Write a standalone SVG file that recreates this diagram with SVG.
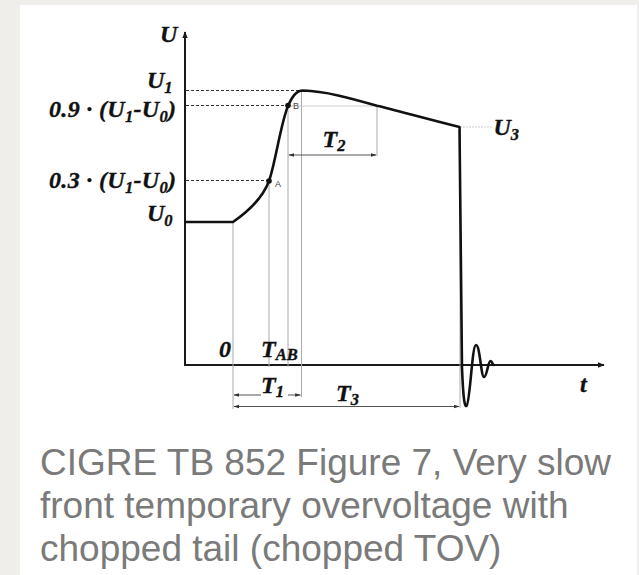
<svg xmlns="http://www.w3.org/2000/svg" width="639" height="575" viewBox="0 0 639 575">
<defs>
<style>
.lbl{font-family:"Liberation Serif","Times New Roman",serif;font-weight:bold;font-style:italic;font-size:24px;fill:#111;stroke:#111;stroke-width:0.35}
.sub{font-size:16.5px}
.pt{font-family:"Liberation Sans",Arial,sans-serif;font-size:9px;fill:#444}
.cap{font-family:"Liberation Sans",Arial,sans-serif;font-size:37px;fill:#7a7a7a}
.axis{stroke:#1a1a1a;stroke-width:2;fill:none}
.curve{stroke:#111;stroke-width:2.6;fill:none;stroke-linejoin:round;stroke-linecap:round}
.dash{stroke:#333;stroke-width:1;stroke-dasharray:3 2;fill:none}
.thin{stroke:#aaa;stroke-width:1;fill:none}
.faint{stroke:#ccc;stroke-width:1;fill:none}
.dim{stroke:#555;stroke-width:1;fill:none}
</style>
<marker id="ah" viewBox="0 0 10 10" refX="9" refY="5" markerWidth="7" markerHeight="7" orient="auto-start-reverse" markerUnits="userSpaceOnUse">
<path d="M0,1 L10,5 L0,9 z" fill="#1a1a1a"/>
</marker>
<marker id="da" viewBox="0 0 10 10" refX="9" refY="5" markerWidth="6" markerHeight="6" orient="auto-start-reverse" markerUnits="userSpaceOnUse">
<path d="M0,2 L10,5 L0,8 z" fill="#333"/>
</marker>
</defs>
<rect x="0" y="0" width="639" height="575" fill="#efeeeb"/>
<rect x="20" y="5" width="617" height="570" fill="#ffffff"/>

<g id="connectors">
<line class="axis" x1="185" y1="366" x2="185" y2="32" marker-end="url(#ah)"/>
<line class="axis" x1="184" y1="365" x2="604" y2="365" marker-end="url(#ah)"/>
<line class="dash" x1="186" y1="90.5" x2="302" y2="90.5"/>
<line class="dash" x1="186" y1="105.5" x2="288" y2="105.5"/>
<line class="dash" x1="186" y1="180.5" x2="269" y2="180.5"/>
<line class="faint" x1="288" y1="106" x2="377" y2="106"/>
<line class="faint" x1="460" y1="127" x2="493" y2="127" stroke-dasharray="2 1"/>
<line class="thin" x1="233" y1="222" x2="233" y2="409"/>
<line class="thin" x1="269" y1="181" x2="269" y2="367"/>
<line class="thin" x1="288" y1="106" x2="288" y2="367"/>
<line class="thin" x1="301.5" y1="91" x2="301.5" y2="397"/>
<line class="thin" x1="377" y1="105" x2="377" y2="156"/>
<line class="thin" x1="460" y1="128" x2="460" y2="408"/>
<line class="dim" x1="289" y1="155" x2="376" y2="155" marker-start="url(#da)" marker-end="url(#da)"/>
<line class="dim" x1="234" y1="395" x2="261" y2="395" marker-start="url(#da)"/>
<line class="dim" x1="288" y1="395" x2="300.5" y2="395" marker-end="url(#da)"/>
<line class="dim" x1="234" y1="406.5" x2="459" y2="406.5" marker-start="url(#da)" marker-end="url(#da)"/>
</g>

<g id="waveform">
<path class="curve" d="M186,222 L233,222 C249,211 263,197 269,181 C275,165 281,122 288,106 C292,97 296,90.5 303,90.5 C325,91 350,98 377,105.7 C395,110 420,117 459.5,127 L462,368 C463,392 464,407 466.5,406 C470,404 472,345 476,345 C480,345 481,377 484,377 C487,377 488,361 490.5,361 C492.5,361 492,365 494,365"/>
<circle cx="269" cy="181" r="2.8" fill="#111"/>
<circle cx="288" cy="105.5" r="2.8" fill="#111"/>
</g>

<g id="point-A"><text class="pt" x="275" y="187">A</text></g>
<g id="point-B"><text class="pt" x="293" y="108.5">B</text></g>

<g id="labels-y">
<text class="lbl" x="160" y="42">U</text>
<text class="lbl" x="147" y="88">U<tspan class="sub" dy="5">1</tspan></text>
<text class="lbl" x="49" y="116.5" textLength="127" lengthAdjust="spacing">0.9 · (U<tspan class="sub" dy="5">1</tspan><tspan dy="-5">-U</tspan><tspan class="sub" dy="5">0</tspan><tspan dy="-5">)</tspan></text>
<text class="lbl" x="49" y="188" textLength="127" lengthAdjust="spacing">0.3 · (U<tspan class="sub" dy="5">1</tspan><tspan dy="-5">-U</tspan><tspan class="sub" dy="5">0</tspan><tspan dy="-5">)</tspan></text>
<text class="lbl" x="147" y="221">U<tspan class="sub" dy="5">0</tspan></text>
</g>

<g id="labels-x">
<text class="lbl" x="219" y="357">0</text>
<text class="lbl" x="261" y="357">T<tspan class="sub" dy="3">AB</tspan></text>
<text class="lbl" x="261" y="393">T<tspan class="sub" dy="4">1</tspan></text>
<text class="lbl" x="336" y="401">T<tspan class="sub" dy="4">3</tspan></text>
<text class="lbl" x="322.5" y="147">T<tspan class="sub" dy="4">2</tspan></text>
<text class="lbl" x="493.5" y="135">U<tspan class="sub" dy="5">3</tspan></text>
<text class="lbl" x="580" y="392">t</text>
</g>

<g id="caption">
<text class="cap" x="40" y="475">CIGRE TB 852 Figure 7, Very slow</text>
<text class="cap" x="40" y="518">front temporary overvoltage with</text>
<text class="cap" x="40" y="561">chopped tail (chopped TOV)</text>
</g>
</svg>
